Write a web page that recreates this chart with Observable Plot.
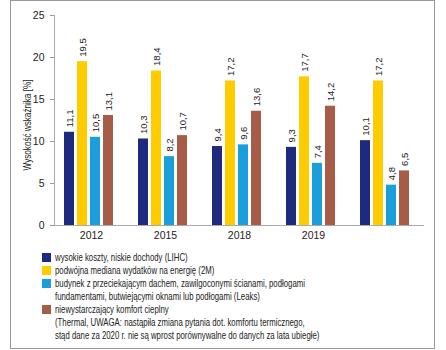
<!DOCTYPE html>
<html>
<head>
<meta charset="utf-8">
<script src="https://cdn.jsdelivr.net/npm/d3@7"></script>
<script src="https://cdn.jsdelivr.net/npm/@observablehq/plot@0.6"></script>
<style>
  html, body { margin: 0; padding: 0; background: #fff; }
  #frame { position: absolute; left: 10px; top: 0px; width: 423px; height: 347px; border: 1px solid #999; background: #fff; }
  #chart svg { display: block; }
  #ylabel { position: absolute; left: 16px; top: 124px; transform: translate(-50%, -50%) rotate(-90deg) scaleX(0.74); white-space: nowrap;
            font-family: "Liberation Sans", Arial, sans-serif; font-size: 11px; color: #222; }
  #legend { position: absolute; left: 31px; top: 250px; font-family: "Liberation Sans", Arial, sans-serif; font-size: 11px; color: #222; line-height: 13px; }
  .entry { position: relative; padding-left: 13px; }
  .line { transform: scaleX(0.71); transform-origin: 0 0; white-space: nowrap; }
  .sw { position: absolute; left: 0; top: 2px; width: 9px; height: 9px; }
</style>
</head>
<body>
<div id="frame">
  <div id="chart"></div>
  <div id="ylabel"></div>
  <div id="legend"></div>
</div>
<script>
const years = ["2012", "2015", "2018", "2019", "2020"];
const yearLabels = ["2012", "2015", "2018", "2019", ""];
const seriesKeys = ["LIHC", "2M", "Leaks", "Thermal"];
const seriesColors = ["#1d2a7e", "#ffcc00", "#1b9fdc", "#a65c47"];
const LIHC = [11.1, 10.3, 9.4, 9.3, 10.1];
const M2 = [19.5, 18.4, 17.2, 17.7, 17.2];
const Leaks = [10.5, 8.2, 9.6, 7.4, 4.8];
const Thermal = [13.1, 10.7, 13.6, 14.2, 6.5];
const yTicks = [0, 5, 10, 15, 20, 25];
const yTitle = "Wysokość wskaźnika [%]";
const legendLabels = [
  ["wysokie koszty, niskie dochody (LIHC)"],
  ["podwójna mediana wydatków na energię (2M)"],
  ["budynek z przeciekającym dachem, zawilgoconymi ścianami, podłogami", "fundamentami, butwiejącymi oknami lub podłogami (Leaks)"],
  ["niewystarczający komfort cieplny", "(Thermal, UWAGA: nastąpiła zmiana pytania dot. komfortu termicznego,", "stąd dane za 2020 r. nie są wprost porównywalne do danych za lata ubiegłe)"]
];

const seriesValues = [LIHC, M2, Leaks, Thermal];
const data = [];
years.forEach((yr, i) => seriesKeys.forEach((s, j) => data.push({year: yr, series: s, value: seriesValues[j][i]})));
const fmt = v => v.toFixed(1).replace(".", ",");
const font = "'Liberation Sans', Arial, sans-serif";

const chart = Plot.plot({
  width: 423,
  height: 248,
  marginLeft: 42,
  marginRight: 9,
  marginTop: 14,
  marginBottom: 24,
  style: {fontFamily: font, fontSize: "10.5px", color: "#222", background: "transparent"},
  fx: {domain: years, padding: 0, label: null, tickFormat: d => yearLabels[years.indexOf(d)], tickSize: 0, tickPadding: 6},
  x: {domain: seriesKeys, axis: null, paddingInner: 0.26, paddingOuter: 0.885, align: 0.4},
  y: {domain: [0, 25], label: null},
  color: {domain: seriesKeys, range: seriesColors},
  marks: [
    Plot.axisY({ticks: yTicks, tickSize: 4, tickPadding: 6, label: null, stroke: "#999", fontSize: 10.5}),
    Plot.frame({anchor: "left", facetAnchor: "left", stroke: "#aaa"}),
    Plot.barY(data, {fx: "year", x: "series", y: "value", fill: "series"}),
    Plot.ruleY([0], {stroke: "#aaa"}),
    Plot.text(data, {fx: "year", x: "series", y: "value", text: d => fmt(d.value), rotate: -90, textAnchor: "start", dy: -5, fontSize: 9.5, fill: "#222"})
  ]
});
document.getElementById("chart").appendChild(chart);
document.getElementById("ylabel").textContent = yTitle;

const legend = document.getElementById("legend");
legendLabels.forEach((lines, i) => {
  const e = document.createElement("div");
  e.className = "entry";
  const sw = document.createElement("span");
  sw.className = "sw";
  sw.style.background = seriesColors[i];
  e.appendChild(sw);
  lines.forEach(l => { const d = document.createElement("div"); d.className = "line"; d.textContent = l; e.appendChild(d); });
  legend.appendChild(e);
});
</script>
</body>
</html>
